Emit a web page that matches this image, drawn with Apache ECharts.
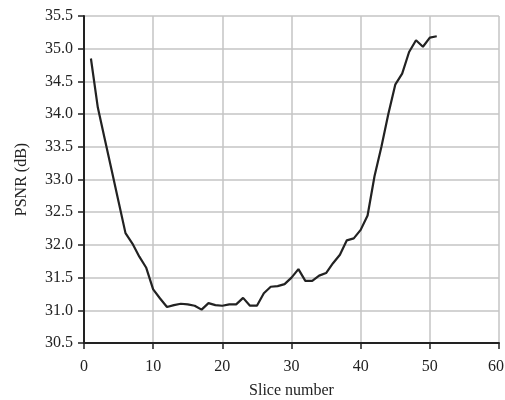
<!DOCTYPE html>
<html>
<head>
<meta charset="utf-8">
<script src="https://cdn.jsdelivr.net/npm/echarts@6/dist/echarts.min.js"></script>
<style>
  html, body { margin: 0; padding: 0; background: #fff; }
  #chart { width: 505px; height: 400px; }
</style>
</head>
<body>
<div id="chart"></div>
<script>
// slice numbers 1..51
var slices = [1,2,3,4,5,6,7,8,9,10,11,12,13,14,15,16,17,18,19,20,21,22,23,24,25,26,
  27,28,29,30,31,32,33,34,35,36,37,38,39,40,41,42,43,44,45,46,47,48,49,50,51];
// PSNR (dB) per slice
var psnr = [34.85,34.1,33.62,33.14,32.66,32.18,32.02,31.82,31.65,31.32,31.18,31.05,31.08,31.1,
  31.09,31.07,31.01,31.11,31.08,31.07,31.09,31.09,31.19,31.07,31.07,31.26,31.36,31.37,31.4,
  31.5,31.63,31.45,31.45,31.53,31.57,31.72,31.85,32.07,32.1,32.23,32.45,33.05,33.5,34.0,
  34.45,34.62,34.95,35.13,35.03,35.17,35.19];

var font = '"Liberation Serif", "Times New Roman", serif';
var chart = echarts.init(document.getElementById('chart'));

var option = {
  animation: false,
  grid: { left: 84, right: 6, top: 16, bottom: 57, containLabel: false, outerBoundsMode: 'none' },
  xAxis: {
    type: 'value',
    min: 0, max: 60, interval: 10,
    name: 'Slice number',
    nameLocation: 'middle',
    nameGap: 40,
    nameTextStyle: { fontFamily: font, fontSize: 16, color: '#222' },
    axisLine: { show: true, onZero: false, lineStyle: { color: '#222', width: 2 } },
    axisTick: { show: true, length: 6, lineStyle: { color: '#222', width: 1.5 } },
    axisLabel: {
      fontFamily: font, fontSize: 16, color: '#222', margin: 16,
      // last label sits a bit left so it stays inside the page
      formatter: function (v) { return v === 60 ? '{e|60}' : String(v); },
      rich: { e: { fontFamily: font, fontSize: 16, color: '#222', padding: [0, 6, 0, 0] } }
    },
    splitLine: { show: true, lineStyle: { color: '#c4c4c4', width: 1.5 } }
  },
  yAxis: {
    type: 'value',
    min: 30.5, max: 35.5, interval: 0.5,
    name: 'PSNR (dB)',
    nameLocation: 'middle',
    nameRotate: 90,
    nameGap: 54,
    nameTextStyle: { fontFamily: font, fontSize: 16, color: '#222' },
    axisLine: { show: true, lineStyle: { color: '#222', width: 2 } },
    axisTick: { show: true, length: 6, lineStyle: { color: '#222', width: 1.5 } },
    axisLabel: {
      fontFamily: font, fontSize: 16, color: '#222', margin: 11,
      formatter: function (v) { return v.toFixed(1); }
    },
    splitLine: { show: true, lineStyle: { color: '#c4c4c4', width: 1.5 } }
  },
  series: [{
    type: 'line',
    data: slices.map(function (s, i) { return [s, psnr[i]]; }),
    showSymbol: false,
    lineStyle: { color: '#222', width: 2.2 }
  }]
};

chart.setOption(option);
</script>
</body>
</html>
